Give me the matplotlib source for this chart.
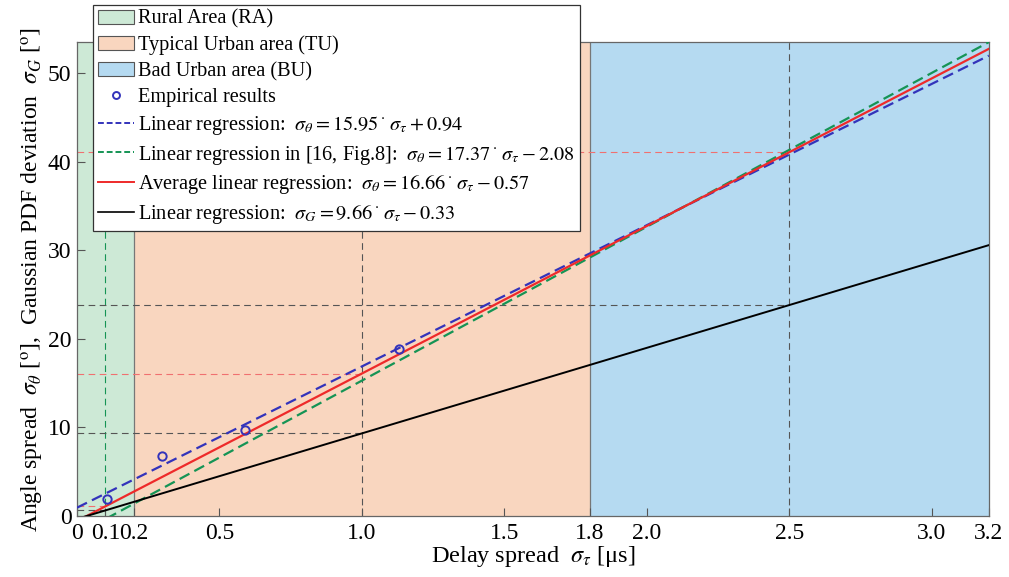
import numpy as np
import matplotlib.pyplot as plt
from matplotlib.patches import Patch
from matplotlib.lines import Line2D

plt.rcParams['font.family'] = ['Liberation Serif', 'DejaVu Serif']
plt.rcParams['mathtext.fontset'] = 'stix'

# Regions (delay spread limits, us)
ra = (0.0, 0.2)
tu = (0.2, 1.8)
bu = (1.8, 3.2)

# Empirical results
emp_x = [0.105, 0.30, 0.59, 1.13]
emp_y = [1.9, 6.75, 9.7, 18.9]

# Regression coefficients (slope, offset)
blue_fit = (15.95, 0.94)
green_fit = (17.37, -2.08)
red_fit = (16.66, -0.57)
black_fit = (9.66, -0.33)

xticks = [0, 0.1, 0.2, 0.5, 1.0, 1.5, 1.8, 2.0, 2.5, 3.0, 3.2]
xticklabels = ['0', '0.1', '0.2', '0.5', '1.0', '1.5', '1.8', '2.0', '2.5', '3.0', '3.2']
yticks = [0, 10, 20, 30, 40, 50]

c_ra = '#cde9d6'
c_tu = '#f9d6bf'
c_bu = '#b5daf1'
c_blue = '#3333bb'
c_green = '#159455'
c_red = '#ee2a2a'

fig = plt.figure(figsize=(10.09, 5.77), dpi=100)
ax = fig.add_axes([0.0763, 0.1057, 0.9037, 0.8213])

ymax = green_fit[0] * 3.2 + green_fit[1]
ax.set_xlim(0, 3.2)
ax.set_ylim(0, ymax)

ax.axvspan(*ra, color=c_ra, ec='none', zorder=0)
ax.axvspan(*tu, color=c_tu, ec='none', zorder=0)
ax.axvspan(*bu, color=c_bu, ec='none', zorder=0)
for b in [0.2, 1.8]:
    ax.axvline(b, color='#777777', lw=0.9, zorder=1)

# reference guide lines
def fit(c, x):
    return c[0] * x + c[1]

for xv in [0.1, 1.0, 2.5]:
    col = c_green if xv == 0.1 else '#555555'
    ax.plot([xv, xv], [0, ymax], ls=(0, (6, 4)), color=col, lw=0.8, zorder=1)
    ax.plot([0, xv], [fit(black_fit, xv)] * 2, ls=(0, (6, 4)), color='#555555', lw=0.8, zorder=1)
    ax.plot([0, xv], [fit(red_fit, xv)] * 2, ls=(0, (6, 4)), color='#f07070', lw=0.8, zorder=1)

x = np.array([0.0, 3.2])
ax.plot(x, fit(blue_fit, x), ls=(0, (5, 2.5)), color=c_blue, lw=1.6, zorder=3)
ax.plot(x, fit(green_fit, x), ls=(0, (5, 2.5)), color=c_green, lw=1.6, zorder=3)
ax.plot(x, fit(red_fit, x), color=c_red, lw=1.6, zorder=3)
ax.plot(x, fit(black_fit, x), color='black', lw=1.4, zorder=3)
ax.plot(emp_x, emp_y, 'o', mfc='none', mec=c_blue, mew=1.4, ms=6, zorder=4)

ax.set_xticks(xticks)
ax.set_xticklabels(xticklabels)
ax.set_yticks(yticks)
ax.tick_params(direction='in', length=6, width=0.8, color='#555555', labelsize=17, pad=5)
ax.tick_params(axis='y', pad=4)
for s in ax.spines.values():
    s.set_color('#666666')
    s.set_linewidth(0.9)

ax.set_xlabel(r'Delay spread  $\sigma_\tau$ [μs]', fontsize=17.5, labelpad=0)
ax.set_ylabel(r'Angle spread  $\sigma_\theta$ [$^{\rm o}$],  Gaussian PDF deviation  $\sigma_G$ [$^{\rm o}$]',
              fontsize=17, labelpad=1)

handles = [
    Patch(fc=c_ra, ec='#555555', lw=0.8),
    Patch(fc=c_tu, ec='#555555', lw=0.8),
    Patch(fc=c_bu, ec='#555555', lw=0.8),
    Line2D([], [], ls='none', marker='o', mfc='none', mec=c_blue, mew=1.4, ms=5),
    Line2D([], [], ls=(0, (3, 1.5)), color=c_blue, lw=1.4),
    Line2D([], [], ls=(0, (3, 1.5)), color=c_green, lw=1.4),
    Line2D([], [], color=c_red, lw=1.4),
    Line2D([], [], color='black', lw=1.2),
]
labels = [
    'Rural Area (RA)',
    'Typical Urban area (TU)',
    'Bad Urban area (BU)',
    'Empirical results',
    r'Linear regression:  $\sigma_\theta = 15.95\,^{\cdot}\;\sigma_\tau + 0.94$',
    r'Linear regression in [16, Fig.8]:  $\sigma_\theta = 17.37\,^{\cdot}\;\sigma_\tau - 2.08$',
    r'Average linear regression:  $\sigma_\theta = 16.66\,^{\cdot}\;\sigma_\tau - 0.57$',
    r'Linear regression:  $\sigma_G = 9.66\,^{\cdot}\;\sigma_\tau - 0.33$',
]
leg = fig.legend(handles, labels, loc='upper left', bbox_to_anchor=(0.092, 0.992),
                 fontsize=14.6, frameon=True, fancybox=False, framealpha=1,
                 edgecolor='#333333', handlelength=1.8, handletextpad=0.2,
                 borderpad=0.25, labelspacing=0.33, borderaxespad=0)
leg.get_frame().set_linewidth(0.9)

fig.savefig('out.png', dpi=100)
